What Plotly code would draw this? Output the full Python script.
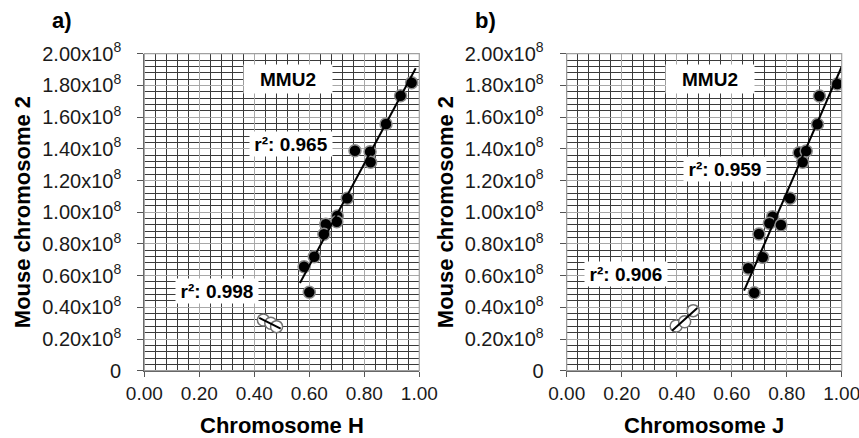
import numpy as np
import plotly.graph_objects as go

# ---------------- data ----------------
# Panel a: Chromosome H (relative position) vs mouse chromosome 2 (bp)
a_filled_x = [0.972, 0.932, 0.879, 0.766, 0.821, 0.823, 0.738, 0.702, 0.700, 0.660, 0.653, 0.618, 0.581, 0.600]
a_filled_y = [1.817e8, 1.735e8, 1.557e8, 1.388e8, 1.382e8, 1.315e8, 1.088e8, 0.976e8, 0.940e8, 0.924e8, 0.861e8, 0.719e8, 0.656e8, 0.495e8]
a_open_x = [0.433, 0.460, 0.481]
a_open_y = [0.320e8, 0.299e8, 0.278e8]

# Panel b: Chromosome J vs mouse chromosome 2
b_filled_x = [0.984, 0.919, 0.912, 0.845, 0.871, 0.858, 0.812, 0.749, 0.737, 0.779, 0.699, 0.713, 0.660, 0.682]
b_filled_y = [1.809e8, 1.733e8, 1.555e8, 1.375e8, 1.386e8, 1.315e8, 1.088e8, 0.972e8, 0.930e8, 0.919e8, 0.862e8, 0.715e8, 0.646e8, 0.492e8]
b_open_x = [0.398, 0.429, 0.460]
b_open_y = [0.282e8, 0.309e8, 0.379e8]

r2_labels_a = ["r²: 0.965", "r²: 0.998"]
r2_labels_b = ["r²: 0.959", "r²: 0.906"]
panel_labels = ["a)", "b)"]
x_titles = ["Chromosome H", "Chromosome J"]
y_title = "Mouse chromosome 2"
box_label = "MMU2"

y_tick_vals = [i * 0.2e8 for i in range(11)]
y_tick_text = ["0"] + ["%.2fx10<sup>8</sup>" % (i * 0.2) for i in range(1, 11)]
x_tick_vals = [0.0, 0.2, 0.4, 0.6, 0.8, 1.0]
x_tick_text = ["0.00", "0.20", "0.40", "0.60", "0.80", "1.00"]

FONT = "Liberation Sans, Arial, sans-serif"
W, H = 859, 438


def trend(xs, ys, ext=0.015):
    k, b = np.polyfit(xs, ys, 1)
    x0, x1 = min(xs) - ext, max(xs) + ext
    return [x0, x1], [k * x0 + b, k * x1 + b]


fig = go.Figure()

panels = [
    ("x", "y", a_filled_x, a_filled_y, a_open_x, a_open_y),
    ("x2", "y2", b_filled_x, b_filled_y, b_open_x, b_open_y),
]

for xa, ya, fx, fy, ox, oy in panels:
    tx, ty = trend(fx, fy)
    tox, toy = trend(ox, oy)
    fig.add_trace(go.Scatter(x=fx, y=fy, mode="markers", xaxis=xa, yaxis=ya,
                             marker=dict(size=12, color="black",
                                         line=dict(color="#8c8c8c", width=1.5)),
                             showlegend=False))
    fig.add_trace(go.Scatter(x=ox, y=oy, mode="markers", xaxis=xa, yaxis=ya,
                             marker=dict(size=12, color="white",
                                         line=dict(color="#707070", width=1.5)),
                             showlegend=False))
    fig.add_trace(go.Scatter(x=tx, y=ty, mode="lines", xaxis=xa, yaxis=ya,
                             line=dict(color="black", width=2), showlegend=False))
    fig.add_trace(go.Scatter(x=tox, y=toy, mode="lines", xaxis=xa, yaxis=ya,
                             line=dict(color="black", width=2), showlegend=False))

x_domains = [[144.3 / W, 419.3 / W], [566.7 / W, 841.7 / W]]
y_domain = [(H - 370.7) / H, (H - 53.7) / H]

for i, (xa_name, ya_name) in enumerate([("xaxis", "yaxis"), ("xaxis2", "yaxis2")]):
    anchor_y = "y" if i == 0 else "y2"
    anchor_x = "x" if i == 0 else "x2"
    fig.layout[xa_name] = dict(
        domain=x_domains[i], anchor=anchor_y, range=[0, 1.0], automargin=False,
        tickmode="array", tickvals=x_tick_vals, ticktext=x_tick_text,
        ticklabeloverflow="allow",
        showgrid=True, gridcolor="#a8a8a8", gridwidth=1.3,
        minor=dict(tickmode="linear", tick0=0, dtick=0.04, showgrid=True,
                   gridcolor="#3a3a3a", gridwidth=1),
        showline=True, linecolor="#555555", linewidth=1.2,
        ticks="outside", ticklen=5, tickcolor="#555555",
        tickfont=dict(family=FONT, size=19, color="#1a1a1a"),
        zeroline=False, fixedrange=True,
    )
    fig.layout[ya_name] = dict(
        domain=y_domain, anchor=anchor_x, range=[0, 2.0e8], automargin=False,
        tickmode="array", tickvals=y_tick_vals, ticktext=y_tick_text,
        ticklabeloverflow="allow",
        showgrid=True, gridcolor="#a8a8a8", gridwidth=1.3,
        minor=dict(tickmode="linear", tick0=0, dtick=4e6, showgrid=True,
                   gridcolor="#3a3a3a", gridwidth=1),
        showline=True, linecolor="#555555", linewidth=1.2,
        ticks="outside", ticklen=6, tickcolor="#555555",
        ticklabelstandoff=12,
        tickfont=dict(family=FONT, size=20, color="#1a1a1a"),
        zeroline=False, fixedrange=True,
    )
    fig.add_shape(type="rect", xref=f"{anchor_x} domain", yref=f"{anchor_y} domain",
                  x0=0, x1=1, y0=0, y1=1, line=dict(color="#a0a0a0", width=1.2),
                  layer="above")

annots = []
bold = dict(family=FONT, size=19, color="black")
for i, xr in enumerate(["x", "x2"]):
    yr = "y" if i == 0 else "y2"
    annots.append(dict(x=0.521, y=1.84e8, xref=xr, yref=yr, text=f"<b>{box_label}</b>",
                       showarrow=False, bgcolor="white", width=86, height=26,
                       font=bold))
r2_pos_a = [(0.533, 1.43e8), (0.264, 0.50e8)]
r2_pos_b = [(0.576, 1.273e8), (0.216, 0.61e8)]
for (px, py), t in zip(r2_pos_a, r2_labels_a):
    annots.append(dict(x=px, y=py, xref="x", yref="y", text=f"<b>{t}</b>",
                       showarrow=False, bgcolor="white", width=80, height=22, font=bold))
for (px, py), t in zip(r2_pos_b, r2_labels_b):
    annots.append(dict(x=px, y=py, xref="x2", yref="y2", text=f"<b>{t}</b>",
                       showarrow=False, bgcolor="white", width=80, height=22, font=bold))

title_font = dict(family=FONT, size=22, color="black")
panel_x = [62 / W, 485 / W]
ytitle_x = [22 / W, 445 / W]
xtitle_x = [(144.3 + 137.5) / W, (566.7 + 137.5) / W]
for i in range(2):
    annots.append(dict(x=panel_x[i], y=1 - 20 / H, xref="paper", yref="paper",
                       text=f"<b>{panel_labels[i]}</b>", showarrow=False,
                       xanchor="center", yanchor="middle", font=title_font))
    annots.append(dict(x=ytitle_x[i], y=(y_domain[0] + y_domain[1]) / 2, xref="paper", yref="paper",
                       text=f"<b>{y_title}</b>", showarrow=False, textangle=-90,
                       xanchor="center", yanchor="middle", font=title_font))
    annots.append(dict(x=xtitle_x[i], y=1 - 425 / H, xref="paper", yref="paper",
                       text=f"<b>{x_titles[i]}</b>", showarrow=False,
                       xanchor="center", yanchor="middle", font=title_font))

fig.update_layout(
    width=W, height=H, autosize=False,
    margin=dict(l=0, r=0, t=0, b=0, pad=0, autoexpand=False),
    paper_bgcolor="white", plot_bgcolor="white",
    annotations=annots, showlegend=False,
    font=dict(family=FONT),
)

fig.write_html("out.html", config={"responsive": False})
